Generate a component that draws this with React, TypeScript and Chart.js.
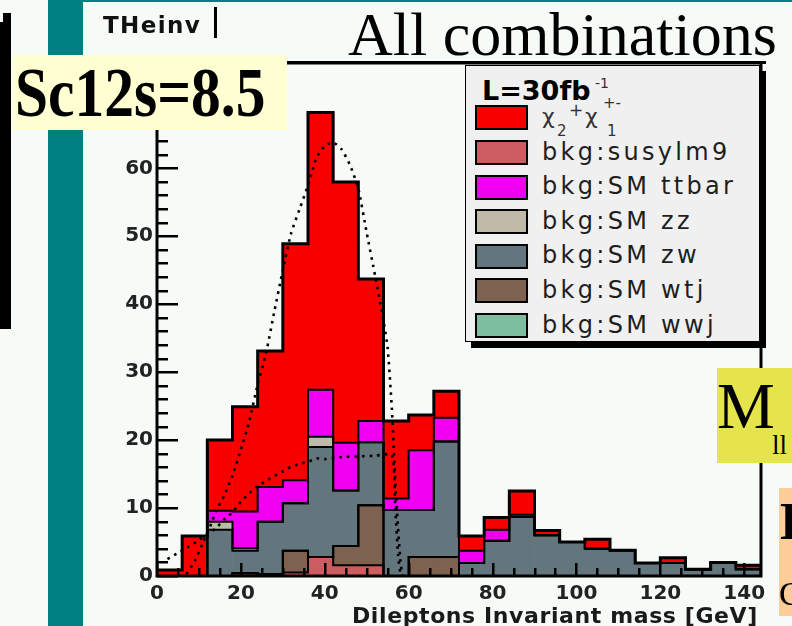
import React, { useEffect, useRef } from 'react';
import { Chart, registerables } from 'chart.js';

Chart.register(...registerables);

// ---- histogram binning (GeV) ----
const binEdges = [0, 6, 12, 18, 24, 30, 36, 42, 48, 54, 60, 66, 72, 78, 84, 90, 96, 102, 108, 114, 120, 126, 132, 138, 144];

// ---- stacked components, events per 6 GeV bin ----
const bkgSusyLM9 = [0, 0, 0, 0.4, 0.3, 0.5, 2.8, 1.6, 1.6, 0, 0, 0, 0, 0, 0, 0, 0, 0, 0, 0, 0, 0, 0, 0];
const bkgWtj = [0, 0, 0, 0, 0, 3.2, 0, 2.8, 8.8, 0, 2.8, 2.8, 0, 0, 0, 0, 0, 0, 0, 0, 0, 0, 0, 0];
const bkgWwj = [0, 0, 0, 0, 0, 0, 0, 0, 0, 0, 0, 0, 0, 0, 0, 0, 0, 0, 0, 0, 0, 0, 0, 0];
const bkgZw = [0, 0, 6.8, 3.3, 7.7, 7.0, 16.2, 8.2, 9.3, 9.7, 6.9, 17.0, 1.9, 5.2, 8.7, 6.0, 5.0, 4.0, 3.8, 1.9, 1.9, 1.0, 2.0, 1.0];
const bkgZz = [0, 0, 1.2, 0.4, 0, 0, 1.5, 0, 0, 0, 0, 0, 0, 0, 0, 0, 0, 0, 0, 0, 0, 0, 0, 0];
const bkgTtbar = [0, 0, 1.6, 5.4, 5.1, 3.4, 6.9, 7.0, 3.1, 1.7, 8.8, 3.5, 1.8, 1.6, 0.3, 0, 0, 0, 0, 0, 0, 0, 0, 0];
const signalChi = [0.9, 5.9, 10.4, 15.4, 20.0, 34.8, 40.8, 38.4, 20.9, 11.4, 5.2, 3.9, 2.2, 1.8, 3.5, 0.7, 0, 1.4, 0, 0, 0.8, 0, 0, 0.6];

// ---- fitted curves (dotted) ----
const edgeFitX = [7, 9, 11, 13, 14, 16, 18, 20, 22, 24, 26, 28, 30, 32, 34, 36, 38, 40, 42, 44, 46, 48, 50, 52, 54, 55, 56, 57, 58, 58.5];
const edgeFitY = [0.3, 2.2, 5.0, 7.8, 9.5, 11.8, 14.8, 18.6, 22.8, 28.2, 32.8, 39.0, 45.0, 50.5, 54.0, 57.5, 61.5, 63.3, 63.8, 62.8, 60.5, 57.0, 50.5, 44.2, 37.5, 33.5, 24.5, 11.6, 2.5, 0];
const bkgFitX = [2.5, 5, 7.5, 10, 12, 14, 16, 18, 20, 22, 24, 26, 28, 30, 32, 34, 36, 38, 40, 44, 48, 52, 56, 56.8, 57.5, 58];
const bkgFitY = [2.5, 3.4, 4.3, 5.3, 6.2, 7.0, 8.3, 9.4, 10.9, 12.2, 13.2, 14.0, 14.7, 15.4, 16.1, 16.5, 16.8, 17.3, 17.2, 17.5, 17.6, 17.7, 17.8, 10.0, 3.0, 0.4];

// ---- axes ----
const X_MIN = 0;
const X_MAX = 144;
const Y_MAX = 75.5;
const xMajorStep = 20;
const xMinorStep = 5;
const yMajorStep = 10;
const yMinorStep = 2;

const SANS = '"DejaVu Sans", Verdana, sans-serif';
const SERIF = '"Liberation Serif", "Times New Roman", serif';

const COLORS = {
  susy: '#cc5c5f',
  wtj: '#7d6250',
  wwj: '#7dbea0',
  zw: '#64767d',
  zz: '#c0baa8',
  ttbar: '#f000f0',
  signal: '#f80000',
};

// stacking order, bottom to top
const layers = [
  { label: 'bkg:susylm9', values: bkgSusyLM9, color: COLORS.susy },
  { label: 'bkg:SM wtj', values: bkgWtj, color: COLORS.wtj },
  { label: 'bkg:SM wwj', values: bkgWwj, color: COLORS.wwj },
  { label: 'bkg:SM zw', values: bkgZw, color: COLORS.zw },
  { label: 'bkg:SM zz', values: bkgZz, color: COLORS.zz },
  { label: 'bkg:SM ttbar', values: bkgTtbar, color: COLORS.ttbar },
  { label: 'chi2+chi1', values: signalChi, color: COLORS.signal },
];

// ticks drawn inside the frame + frame border, ROOT style
const frameTicks = {
  id: 'frameTicks',
  afterDatasetsDraw(chart: any) {
    const { ctx, chartArea, scales } = chart;
    const { left, right, top, bottom } = chartArea;
    const xs = scales.x;
    const ys = scales.y;
    ctx.save();
    ctx.strokeStyle = '#000';
    ctx.lineWidth = 2.5;
    ctx.beginPath();
    for (let v = 0; v <= Y_MAX; v += yMinorStep) {
      const py = Math.round(ys.getPixelForValue(v)) + 0.25;
      const len = v % yMajorStep === 0 ? 21 : 11;
      ctx.moveTo(left, py);
      ctx.lineTo(left + len, py);
    }
    for (let v = X_MIN; v <= X_MAX; v += xMinorStep) {
      const px = Math.round(xs.getPixelForValue(v)) + 0.25;
      const len = v % xMajorStep === 0 ? 13 : 8;
      ctx.moveTo(px, bottom);
      ctx.lineTo(px, bottom - len);
    }
    ctx.stroke();
    ctx.lineWidth = 3;
    ctx.strokeRect(left, top, right - left, bottom - top);
    ctx.restore();
  },
};

function Txt(props: {
  x: number;
  base: number;
  size: number;
  serif?: boolean;
  bold?: boolean;
  spacing?: number;
  color?: string;
  scaleX?: number;
  children: React.ReactNode;
}) {
  const { x, base, size, serif, bold, spacing, color, scaleX, children } = props;
  const k = serif ? 0.8375 : 0.846;
  return (
    <div
      style={{
        position: 'absolute',
        left: x,
        top: base - size * k,
        fontFamily: serif ? SERIF : SANS,
        fontSize: size,
        lineHeight: 1,
        fontWeight: bold ? 'bold' : 'normal',
        letterSpacing: spacing ?? 0,
        color: color ?? '#000',
        whiteSpace: 'nowrap',
        transform: scaleX ? `scaleX(${scaleX})` : undefined,
        transformOrigin: 'left center',
      }}
    >
      {children}
    </div>
  );
}

function Box(props: { x: number; y: number; w: number; h: number; bg: string; style?: React.CSSProperties; children?: React.ReactNode }) {
  return (
    <div style={{ position: 'absolute', left: props.x, top: props.y, width: props.w, height: props.h, background: props.bg, boxSizing: 'border-box', ...props.style }}>
      {props.children}
    </div>
  );
}

const legendRows = [
  { label: 'bkg:susylm9', color: COLORS.susy },
  { label: 'bkg:SM ttbar', color: COLORS.ttbar },
  { label: 'bkg:SM zz', color: COLORS.zz },
  { label: 'bkg:SM zw', color: COLORS.zw },
  { label: 'bkg:SM wtj', color: COLORS.wtj },
  { label: 'bkg:SM wwj', color: COLORS.wwj },
];

export default function App() {
  const canvasRef = useRef<HTMLCanvasElement | null>(null);

  useEffect(() => {
    const canvas = canvasRef.current;
    if (!canvas) return;

    const centers = binEdges.slice(0, -1).map((e, i) => (e + binEdges[i + 1]) / 2);

    const barSets: any[] = layers.map((layer) => ({
      type: 'bar',
      label: layer.label,
      data: centers.map((c, i) => ({ x: c, y: layer.values[i] })),
      backgroundColor: layer.color,
      borderWidth: 0,
      barPercentage: 1,
      categoryPercentage: 1,
      stack: 'hist',
      order: 2,
    }));

    // outline of every cumulative layer
    const outlineSets: any[] = [];
    let running = centers.map(() => 0);
    layers.forEach((layer, k) => {
      running = running.map((r, i) => r + layer.values[i]);
      const cum = running.slice();
      const pts = [{ x: binEdges[0], y: 0 }];
      cum.forEach((v, i) => pts.push({ x: binEdges[i], y: v }));
      pts.push({ x: binEdges[binEdges.length - 1], y: cum[cum.length - 1] });
      pts.push({ x: binEdges[binEdges.length - 1], y: 0 });
      outlineSets.push({
        type: 'line',
        label: 'outline ' + layer.label,
        data: pts,
        stepped: true,
        borderColor: '#000',
        borderWidth: k === layers.length - 1 ? 3 : 2,
        pointRadius: 0,
        fill: false,
        stack: 'outline' + k,
        order: 1,
      });
    });

    const curveSets: any[] = [
      {
        type: 'line',
        label: 'edge fit',
        data: edgeFitX.map((x, i) => ({ x, y: edgeFitY[i] })),
        borderColor: '#000',
        borderWidth: 2.6,
        borderDash: [2.6, 5],
        pointRadius: 0,
        fill: false,
        tension: 0.2,
        stack: 'curveA',
        order: 0,
      },
      {
        type: 'line',
        label: 'background fit',
        data: bkgFitX.map((x, i) => ({ x, y: bkgFitY[i] })),
        borderColor: '#000',
        borderWidth: 2.6,
        borderDash: [2.6, 5],
        pointRadius: 0,
        fill: false,
        tension: 0.2,
        stack: 'curveB',
        order: 0,
      },
    ];

    const tickFont = { family: SANS, size: 20, weight: 'bold' as const };

    const chart = new Chart(canvas, {
      type: 'bar',
      data: { datasets: [...barSets, ...outlineSets, ...curveSets] },
      options: {
        animation: false,
        responsive: false,
        maintainAspectRatio: false,
        devicePixelRatio: 1,
        layout: { padding: { left: 0, top: 63, right: 31, bottom: 0 } },
        plugins: { legend: { display: false }, tooltip: { enabled: false }, title: { display: false } },
        scales: {
          x: {
            type: 'linear',
            min: X_MIN,
            max: X_MAX,
            offset: false,
            stacked: true,
            grid: { display: false, drawTicks: false },
            border: { display: false },
            ticks: {
              stepSize: xMajorStep,
              includeBounds: false,
              autoSkip: false,
              maxRotation: 0,
              padding: 6,
              color: '#222',
              font: tickFont,
            },
            afterFit: (s: any) => {
              s.height = 50;
            },
          },
          y: {
            type: 'linear',
            min: 0,
            max: Y_MAX,
            stacked: true,
            grid: { display: false, drawTicks: false },
            border: { display: false },
            ticks: {
              stepSize: yMajorStep,
              includeBounds: false,
              padding: 4,
              color: '#222',
              font: tickFont,
            },
            afterFit: (s: any) => {
              s.width = 157;
            },
          },
        },
      } as any,
      plugins: [frameTicks],
    });

    return () => chart.destroy();
  }, []);

  return (
    <div style={{ position: 'fixed', left: 0, top: 0, width: 792, height: 626, overflow: 'hidden', background: '#f7fbf8' }}>
      <canvas ref={canvasRef} width={792} height={626} style={{ position: 'absolute', left: 0, top: 0, width: 792, height: 626 }} />

      {/* slide decoration */}
      <Box x={48} y={0} w={35} h={626} bg="#008080" />
      <Box x={48} y={0} w={744} h={2} bg="#008080" />
      <Box x={3} y={13} w={8} h={316} bg="#000" />
      <Box x={0} y={22} w={4} h={307} bg="#000" />

      {/* canvas title */}
      <Txt x={103} base={33} size={23} bold spacing={1.4} color="#111">THeinv</Txt>
      <Box x={214} y={7} w={3} h={31} bg="#000" />
      <Txt x={348} base={55} size={62} serif>All combinations</Txt>
      <Box x={287} y={61} w={479} h={3} bg="#000" />

      {/* legend */}
      <Box x={471} y={71} w={295} h={277} bg="#000" />
      <Box x={465} y={65} w={295} h={277} bg="#f0f0f0" style={{ border: '1px solid #000' }} />
      <Txt x={482} base={100} size={27} bold>L=30fb</Txt>
      <Txt x={595} base={88} size={14} color="#333">-1</Txt>
      <Box x={475} y={105} w={53} h={25} bg={COLORS.signal} style={{ border: '2px solid #000' }} />
      <Txt x={542} base={125} size={22} color="#333">χ</Txt>
      <Txt x={557} base={137} size={15} color="#333">2</Txt>
      <Txt x={569} base={116} size={17} color="#333">+</Txt>
      <Txt x={585} base={125} size={22} color="#333">χ</Txt>
      <Txt x={607} base={137} size={15} color="#333">1</Txt>
      <Txt x={603} base={109} size={15} color="#333">+-</Txt>
      {legendRows.map((row, i) => (
        <React.Fragment key={row.label}>
          <Box x={475} y={140 + i * 34.6} w={53} h={25} bg={row.color} style={{ border: '2px solid #000' }} />
          <Txt x={542} base={160 + i * 34.6} size={24} spacing={3.3} color="#1e1e1e">{row.label}</Txt>
        </React.Fragment>
      ))}

      {/* x axis title */}
      <Txt x={352} base={624} size={22} bold spacing={0.6} color="#1a1a1a">Dileptons Invariant mass [GeV]</Txt>

      {/* annotations */}
      <Box x={13} y={55} w={274} h={75} bg="#ffffd2" />
      <Txt x={15} base={117} size={70} serif bold scaleX={0.85}>Sc12s=8.5</Txt>

      <Box x={717} y={368} w={75} h={95} bg="#e6e44b" />
      <Txt x={717} base={428} size={65} serif>M</Txt>
      <Txt x={772} base={455} size={27} serif>ll</Txt>

      <Box x={779} y={488} w={13} h={128} bg="#fccc99" style={{ overflow: 'hidden' }}>
        <Txt x={1} base={52} size={52} serif bold>D</Txt>
        <Txt x={0} base={117} size={34} serif>C</Txt>
      </Box>
    </div>
  );
}
